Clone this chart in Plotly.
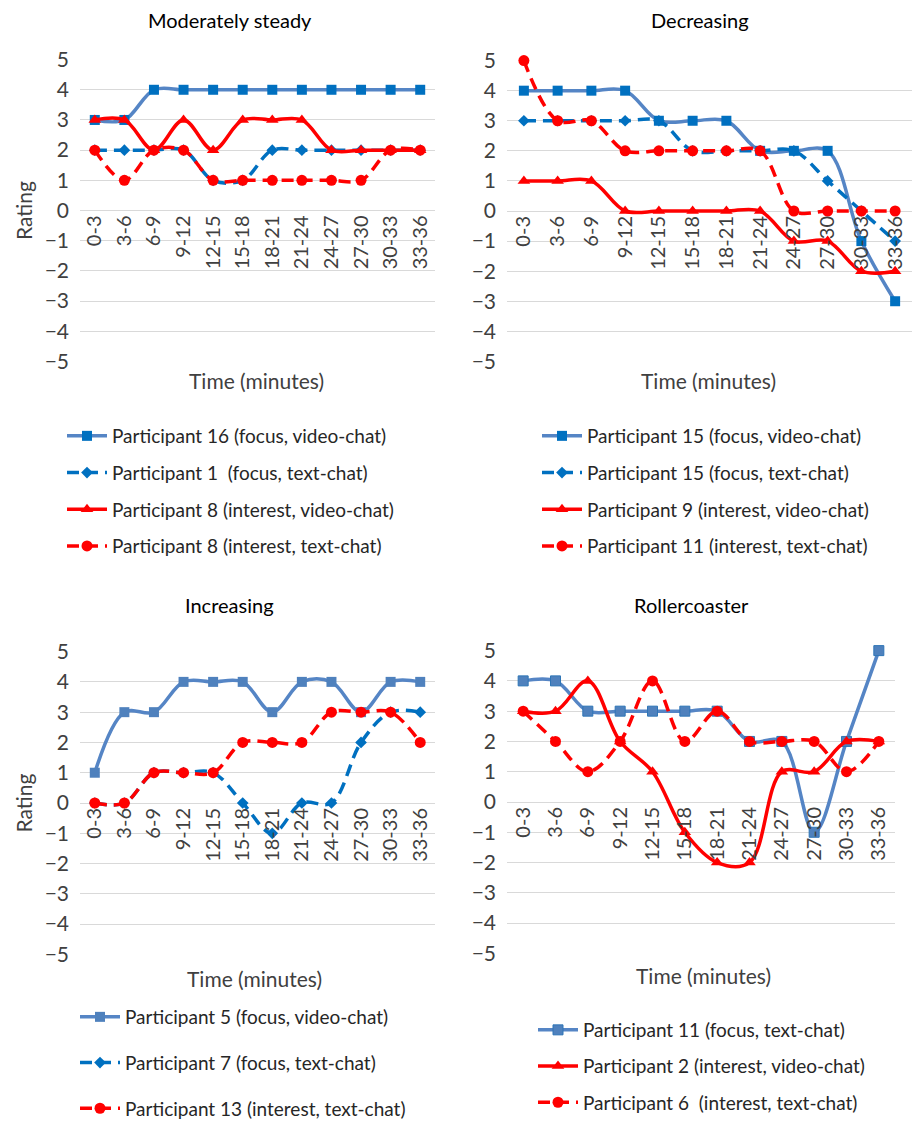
import plotly.graph_objects as go

categories = ["0-3", "3-6", "6-9", "9-12", "12-15", "15-18", "18-21", "21-24",
              "24-27", "27-30", "30-33", "33-36"]

# Panel 1: Moderately steady
p16_focus_video = [3, 3, 4, 4, 4, 4, 4, 4, 4, 4, 4, 4]
p1_focus_text = [2, 2, 2, 2, 1, 1, 2, 2, 2, 2, 2, 2]
p8_interest_video = [3, 3, 2, 3, 2, 3, 3, 3, 2, 2, 2, 2]
p8_interest_text = [2, 1, 2, 2, 1, 1, 1, 1, 1, 1, 2, 2]

# Panel 2: Decreasing
p15_focus_video = [4, 4, 4, 4, 3, 3, 3, 2, 2, 2, -1, -3]
p15_focus_text = [3, 3, 3, 3, 3, 2, 2, 2, 2, 1, 0, -1]
p9_interest_video = [1, 1, 1, 0, 0, 0, 0, 0, -1, -1, -2, -2]
p11_interest_text = [5, 3, 3, 2, 2, 2, 2, 2, 0, 0, 0, 0]

# Panel 3: Increasing
p5_focus_video = [1, 3, 3, 4, 4, 4, 3, 4, 4, 3, 4, 4]
p7_focus_text = [0, 0, 1, 1, 1, 0, -1, 0, 0, 2, 3, 3]
p13_interest_text = [0, 0, 1, 1, 1, 2, 2, 2, 3, 3, 3, 2]

# Panel 4: Rollercoaster
p11_focus_text = [4, 4, 3, 3, 3, 3, 3, 2, 2, -1, 2, 5]
p2_interest_video = [3, 3, 4, 2, 1, -1, -2, -2, 1, 1, 2, 2]
p6_interest_text = [3, 2, 1, 2, 4, 2, 3, 2, 2, 2, 1, 2]

panel_titles = ["Moderately steady", "Decreasing", "Increasing", "Rollercoaster"]
x_title = "Time (minutes)"
y_title = "Rating"

W, H = 914, 1121
FONT = "Lato"
TXT = "#404040"
GRID = "#D9D9D9"
BLUE_LINE = "#5585C5"
BLUE_MARK = "#0070C0"
BLUE_DASH = "#0070C0"
RED = "#FF0000"
DASH = "12px,7px"


def px(x):
    return x / W


def py(y):
    return 1 - y / H


# (left, right, top, bottom) in page pixels of each plot area
panels = [
    (80, 435, 59, 362),
    (507, 912, 60, 362),
    (80, 435, 651, 955),
    (507, 895, 650, 954),
]

styles = {
    "fv": dict(line=dict(color=BLUE_LINE, width=3.5, shape="spline"),
               marker=dict(symbol="square", size=10, color=BLUE_MARK)),
    "ft": dict(line=dict(color=BLUE_DASH, width=3.5, shape="spline", dash=DASH),
               marker=dict(symbol="diamond", size=9, color=BLUE_DASH)),
    "iv": dict(line=dict(color=RED, width=3.5, shape="spline"),
               marker=dict(symbol="triangle-up", size=11, color=RED)),
    "it": dict(line=dict(color=RED, width=3.5, shape="spline", dash=DASH),
               marker=dict(symbol="circle", size=11, color=RED)),
    "fv3": dict(line=dict(color=BLUE_LINE, width=3.5, shape="spline"),
                marker=dict(symbol="square", size=10, color="#4F81BD")),
    "ft4": dict(line=dict(color=BLUE_LINE, width=3.5, shape="spline"),
                marker=dict(symbol="square", size=10, color="#4F81BD",
                            line=dict(color="#2E75B6", width=1))),
}

series = [
    [("Participant 16 (focus, video-chat)", p16_focus_video, "fv"),
     ("Participant 1  (focus, text-chat)", p1_focus_text, "ft"),
     ("Participant 8 (interest, video-chat)", p8_interest_video, "iv"),
     ("Participant 8 (interest, text-chat)", p8_interest_text, "it")],
    [("Participant 15 (focus, video-chat)", p15_focus_video, "fv"),
     ("Participant 15 (focus, text-chat)", p15_focus_text, "ft"),
     ("Participant 9 (interest, video-chat)", p9_interest_video, "iv"),
     ("Participant 11 (interest, text-chat)", p11_interest_text, "it")],
    [("Participant 5 (focus, video-chat)", p5_focus_video, "fv3"),
     ("Participant 7 (focus, text-chat)", p7_focus_text, "ft"),
     ("Participant 13 (interest, text-chat)", p13_interest_text, "it")],
    [("Participant 11 (focus, text-chat)", p11_focus_text, "ft4"),
     ("Participant 2 (interest, video-chat)", p2_interest_video, "iv"),
     ("Participant 6  (interest, text-chat)", p6_interest_text, "it")],
]

# legend placement: (left px, top px, gap between rows)
legend_pos = [(62, 417, 9), (537, 417, 9), (75, 998, 18), (533, 1011, 8.5)]

fig = go.Figure()
layout = dict(width=W, height=H,
              margin=dict(l=0, r=0, t=0, b=0, pad=0, autoexpand=False),
              paper_bgcolor="white", plot_bgcolor="white",
              font=dict(family=FONT, color=TXT, size=18))
annotations = []

for i, (l, r, t, b) in enumerate(panels):
    n = "" if i == 0 else str(i + 1)
    ydom = [py(b), py(t)]
    xdom = [px(l), px(r)]
    layout["xaxis" + n] = dict(
        domain=xdom, anchor="free", position=ydom[0] + 0.5 * (ydom[1] - ydom[0]),
        type="category", categoryorder="array", categoryarray=categories,
        range=[-0.5, len(categories) - 0.5], automargin=False,
        showgrid=False, showline=False, ticks="", tickangle=-90, zeroline=False,
        tickfont=dict(size=20, color=TXT, family=FONT),
    )
    ya = dict(
        domain=ydom, anchor="x" + n, range=[-5.02, 5.02], dtick=1, tick0=0,
        showgrid=True, gridcolor=GRID, gridwidth=1.3, zeroline=False,
        showline=False, ticks="", tickfont=dict(size=21, color=TXT, family=FONT),
        ticklabelstandoff=10, automargin=False,
    )
    if i in (0, 2):
        ya["title"] = dict(text=y_title, font=dict(size=21, color=TXT, family=FONT),
                           standoff=6)
    layout["yaxis" + n] = ya

    lg = "legend" + n
    lx, ly, gap = legend_pos[i]
    layout[lg] = dict(x=px(lx), y=py(ly), xanchor="left", yanchor="top",
                      bgcolor="rgba(0,0,0,0)", tracegroupgap=gap,
                      font=dict(size=19, color="#262626", family=FONT),
                      itemwidth=40, traceorder="grouped")

    for j, (name, vals, st) in enumerate(series[i]):
        s = styles[st]
        fig.add_trace(go.Scatter(
            x=categories, y=vals, name=name, mode="lines+markers",
            line=s["line"], marker=s["marker"], xaxis="x" + n, yaxis="y" + n,
            legend=lg, legendgroup=f"g{i}_{j}", cliponaxis=False,
        ))

title_pos = [(230, 20), (700, 20), (230, 605), (691, 605)]
xtitle_pos = [(256, 380), (708, 380), (254, 978), (703, 975)]
for (tx, ty), text in zip(title_pos, panel_titles):
    annotations.append(dict(text=text, x=px(tx), y=py(ty), xref="paper", yref="paper",
                            showarrow=False, xanchor="center", yanchor="middle",
                            font=dict(size=20, color="#000000", family=FONT)))
for (tx, ty) in xtitle_pos:
    annotations.append(dict(text=x_title, x=px(tx), y=py(ty), xref="paper", yref="paper",
                            showarrow=False, xanchor="center", yanchor="middle",
                            font=dict(size=21, color=TXT, family=FONT)))
layout["annotations"] = annotations
fig.update_layout(**layout)
fig.write_html("out.html",
               config={"displayModeBar": False},
               post_script="document.body.style.margin='0';")
